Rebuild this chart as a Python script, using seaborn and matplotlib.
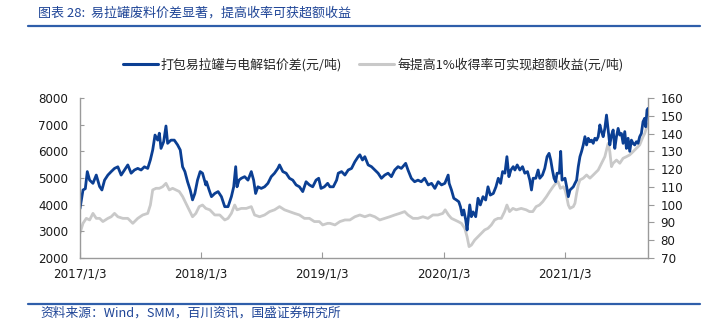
import matplotlib
matplotlib.use("Agg")
import matplotlib.pyplot as plt
from matplotlib.lines import Line2D
import seaborn as sns
import pandas as pd

# ---------------- data ----------------
title_text = "图表 28:  易拉罐废料价差显著，提高收率可获超额收益"
source_text = "资料来源：Wind，SMM，百川资讯，国盛证券研究所"
blue_name = "打包易拉罐与电解铝价差(元/吨)"
gray_name = "每提高1%收得率可实现超额收益(元/吨)"

blue_dates = [
    "2017-01-03", "2017-01-12", "2017-01-19", "2017-01-25", "2017-02-01", "2017-02-11", "2017-02-21",
    "2017-03-03", "2017-03-10", "2017-03-18", "2017-03-28", "2017-04-07", "2017-04-17", "2017-04-27",
    "2017-05-07", "2017-05-17", "2017-05-27", "2017-06-06", "2017-06-16", "2017-06-26", "2017-07-06",
    "2017-07-16", "2017-07-26", "2017-08-03", "2017-08-10", "2017-08-17", "2017-08-25", "2017-08-30",
    "2017-09-04", "2017-09-12", "2017-09-19", "2017-09-24", "2017-10-04", "2017-10-14", "2017-10-24",
    "2017-11-01", "2017-11-08", "2017-11-15", "2017-11-23", "2017-12-01", "2017-12-08", "2017-12-15",
    "2017-12-23", "2017-12-31", "2018-01-07", "2018-01-17", "2018-01-19", "2018-01-27", "2018-02-03",
    "2018-02-13", "2018-02-23", "2018-03-05", "2018-03-15", "2018-03-25", "2018-04-04", "2018-04-11",
    "2018-04-17", "2018-04-21", "2018-04-27", "2018-05-04", "2018-05-14", "2018-05-24", "2018-06-03",
    "2018-06-10", "2018-06-16", "2018-06-23", "2018-07-03", "2018-07-13", "2018-07-23", "2018-08-02",
    "2018-08-12", "2018-08-22", "2018-08-27", "2018-09-06", "2018-09-16", "2018-09-26", "2018-10-06",
    "2018-10-16", "2018-10-26", "2018-11-05", "2018-11-15", "2018-11-25", "2018-12-05", "2018-12-15",
    "2018-12-23", "2018-12-30", "2019-01-09", "2019-01-19", "2019-01-26", "2019-02-05", "2019-02-15",
    "2019-02-20", "2019-03-02", "2019-03-12", "2019-03-22", "2019-04-01", "2019-04-11", "2019-04-21",
    "2019-04-26", "2019-05-04", "2019-05-11", "2019-05-21", "2019-05-31", "2019-06-10", "2019-06-20",
    "2019-06-30", "2019-07-10", "2019-07-20", "2019-07-30", "2019-08-09", "2019-08-19", "2019-08-29",
    "2019-09-11", "2019-09-18", "2019-09-28", "2019-10-08", "2019-10-18", "2019-10-28", "2019-11-07",
    "2019-11-18", "2019-11-28", "2019-12-08", "2019-12-18", "2019-12-28", "2020-01-07", "2020-01-17",
    "2020-01-20", "2020-01-27", "2020-02-03", "2020-02-11", "2020-02-18", "2020-02-23", "2020-02-28",
    "2020-03-04", "2020-03-10", "2020-03-14", "2020-03-17", "2020-03-22", "2020-03-27", "2020-04-01",
    "2020-04-09", "2020-04-16", "2020-04-23", "2020-05-01", "2020-05-09", "2020-05-16", "2020-05-23",
    "2020-06-01", "2020-06-09", "2020-06-16", "2020-06-23", "2020-06-29", "2020-07-06", "2020-07-12",
    "2020-07-18", "2020-07-24", "2020-07-31", "2020-08-05", "2020-08-12", "2020-08-20", "2020-08-28",
    "2020-09-04", "2020-09-12", "2020-09-19", "2020-09-24", "2020-09-29", "2020-10-07", "2020-10-14",
    "2020-10-19", "2020-10-27", "2020-11-03", "2020-11-10", "2020-11-16", "2020-11-21", "2020-11-26",
    "2020-12-01", "2020-12-06", "2020-12-10", "2020-12-17", "2020-12-21", "2020-12-25", "2021-01-03",
    "2021-01-08", "2021-01-13", "2021-01-18", "2021-01-23", "2021-01-28", "2021-02-02", "2021-02-07",
    "2021-02-12", "2021-02-17", "2021-02-22", "2021-02-27", "2021-03-04", "2021-03-09", "2021-03-14",
    "2021-03-19", "2021-03-24", "2021-03-29", "2021-04-03", "2021-04-08", "2021-04-13", "2021-04-18",
    "2021-04-23", "2021-04-28", "2021-05-03", "2021-05-08", "2021-05-13", "2021-05-18", "2021-05-23",
    "2021-05-28", "2021-06-02", "2021-06-07", "2021-06-12", "2021-06-17", "2021-06-22", "2021-06-27",
    "2021-07-02", "2021-07-07", "2021-07-12", "2021-07-17", "2021-07-22", "2021-07-27", "2021-08-01",
    "2021-08-06", "2021-08-11", "2021-08-16", "2021-08-21", "2021-08-26", "2021-08-31", "2021-09-03",
    "2021-09-07", "2021-09-10",
]
blue_values = [
    3850, 4550, 4600, 5240, 4920, 4800, 5110,
    4680, 4550, 4920, 5110, 5240, 5360, 5420,
    5110, 5300, 5490, 5180, 5300, 5360, 5300,
    5420, 5360, 5680, 6050, 6610, 6420, 6680,
    6110, 6360, 6950, 6300, 6420, 6420, 6240,
    6050, 5420, 5240, 4860, 4550, 4180, 4420,
    4920, 5240, 5180, 4740, 4860, 4550, 4300,
    4420, 4490, 4300, 3925, 3925, 4300, 4670,
    5425, 4670, 4920, 4990, 5050, 4920, 5240,
    4920, 4420, 4670, 4610, 4670, 4800, 5050,
    5180, 5360, 5490, 5240, 5180, 4990, 4920,
    4740, 4670, 4490, 4860, 4740, 4670, 4920,
    4990, 4610, 4670, 4800, 4670, 4670, 4920,
    5180, 5240, 5110, 5300, 5360, 5610, 5800,
    5870, 5675, 5800, 5490, 5425, 5300, 5180,
    4990, 5110, 5180, 5050, 5300, 5425, 5360,
    5550, 5300, 4990, 4860, 4920, 4860, 4990,
    4740, 4800, 4610, 4860, 4740, 4800, 5110,
    4800, 4550, 4240, 4175, 4110, 3925, 3610,
    3800, 3420, 3050, 3420, 3990, 3550, 3730,
    3550, 4240, 3990, 4300, 4175, 4670, 4360,
    4420, 4670, 4990, 4800, 5240, 5180, 5800,
    5050, 5300, 5425, 5300, 5490, 5300, 5425,
    5180, 5240, 4920, 4550, 4990, 4990, 5300,
    4990, 5110, 5360, 5800, 5925, 5675, 5300,
    4990, 4860, 5180, 5180, 6000, 4920, 4990,
    4670, 4300, 4550, 4610, 4670, 4800, 4920,
    5425, 5800, 6000, 6240, 6550, 6240, 6490,
    6360, 6420, 6300, 6490, 6420, 6550, 6990,
    6740, 6550, 6860, 7360, 6800, 6240, 6610,
    6800, 6110, 6550, 6860, 6610, 6670, 6300,
    6740, 6110, 6490, 6000, 6420, 6300, 6240,
    6360, 6300, 6550, 6670, 7110, 7240, 6920,
    7550, 7610,
]

gray_dates = [
    "2017-01-03", "2017-01-12", "2017-01-22", "2017-02-01", "2017-02-11", "2017-02-21", "2017-03-03",
    "2017-03-13", "2017-03-28", "2017-04-07", "2017-04-17", "2017-04-27", "2017-05-12", "2017-05-27",
    "2017-06-11", "2017-06-26", "2017-07-11", "2017-07-26", "2017-08-03", "2017-08-10", "2017-08-20",
    "2017-08-30", "2017-09-09", "2017-09-19", "2017-09-29", "2017-10-09", "2017-10-19", "2017-10-29",
    "2017-11-08", "2017-11-18", "2017-11-28", "2017-12-08", "2017-12-18", "2017-12-28", "2018-01-07",
    "2018-01-17", "2018-01-29", "2018-02-13", "2018-02-28", "2018-03-15", "2018-03-25", "2018-04-04",
    "2018-04-14", "2018-04-21", "2018-05-04", "2018-05-19", "2018-06-03", "2018-06-13", "2018-06-28",
    "2018-07-13", "2018-07-28", "2018-08-12", "2018-08-27", "2018-09-11", "2018-09-26", "2018-10-11",
    "2018-10-26", "2018-11-10", "2018-11-25", "2018-12-10", "2018-12-25", "2019-01-04", "2019-01-19",
    "2019-01-26", "2019-02-10", "2019-02-25", "2019-03-12", "2019-03-27", "2019-04-11", "2019-04-26",
    "2019-05-11", "2019-05-26", "2019-06-10", "2019-06-25", "2019-07-10", "2019-07-25", "2019-08-09",
    "2019-08-24", "2019-09-08", "2019-09-18", "2019-10-03", "2019-10-18", "2019-11-02", "2019-11-17",
    "2019-12-02", "2019-12-17", "2020-01-01", "2020-01-08", "2020-01-18", "2020-01-27", "2020-02-06",
    "2020-02-16", "2020-02-26", "2020-03-07", "2020-03-14", "2020-03-20", "2020-03-27", "2020-04-06",
    "2020-04-16", "2020-04-26", "2020-05-06", "2020-05-16", "2020-05-26", "2020-06-05", "2020-06-15",
    "2020-06-25", "2020-07-05", "2020-07-12", "2020-07-20", "2020-07-30", "2020-08-09", "2020-08-24",
    "2020-09-08", "2020-09-18", "2020-09-28", "2020-10-08", "2020-10-18", "2020-10-28", "2020-11-08",
    "2020-11-18", "2020-11-28", "2020-12-06", "2020-12-13", "2020-12-20", "2020-12-29", "2021-01-03",
    "2021-01-08", "2021-01-13", "2021-01-18", "2021-01-28", "2021-02-02", "2021-02-07", "2021-02-12",
    "2021-02-17", "2021-02-27", "2021-03-09", "2021-03-19", "2021-03-29", "2021-04-08", "2021-04-13",
    "2021-04-23", "2021-05-03", "2021-05-13", "2021-05-18", "2021-05-23", "2021-05-28", "2021-06-07",
    "2021-06-17", "2021-06-27", "2021-07-07", "2021-07-17", "2021-07-27", "2021-08-06", "2021-08-16",
    "2021-08-26", "2021-08-31", "2021-09-05", "2021-09-10",
]
gray_values = [
    84.0, 89.5, 92.3, 91.4, 95.1, 92.3, 92.3,
    90.5, 92.3, 93.2, 95.1, 93.2, 92.3, 92.3,
    89.5, 92.3, 94.2, 95.1, 99.8, 108.3, 109.2,
    109.2, 110.1, 112.0, 108.3, 109.2, 108.3, 107.4,
    104.6, 100.8, 97.1, 93.2, 95.1, 98.9, 99.8,
    97.9, 97.1, 94.2, 94.2, 91.4, 92.3, 95.1,
    99.8, 97.1, 97.9, 97.9, 98.9, 94.2, 93.2,
    94.2, 96.1, 97.1, 98.9, 97.1, 96.1, 95.1,
    94.2, 92.3, 92.3, 90.5, 90.5, 88.6, 89.5,
    89.5, 88.6, 90.5, 91.4, 91.4, 93.2, 94.2,
    93.2, 94.2, 93.2, 91.4, 92.3, 93.2, 94.2,
    95.1, 96.1, 94.2, 92.3, 92.3, 93.2, 92.3,
    94.2, 94.2, 95.1, 97.1, 94.2, 92.3, 91.4,
    90.5, 89.5, 86.7, 82.0, 76.4, 77.3, 80.1,
    82.0, 83.9, 85.8, 86.7, 88.6, 91.4, 92.3,
    92.3, 96.1, 99.8, 96.1, 97.9, 97.1, 97.9,
    97.1, 96.1, 96.1, 98.9, 99.8, 101.7, 104.5,
    107.4, 110.1, 112.0, 112.9, 109.2, 110.1, 108.3,
    104.5, 99.8, 97.9, 98.9, 100.8, 106.4, 111.1,
    113.9, 114.9, 116.7, 114.9, 116.7, 118.6, 119.5,
    123.3, 127.0, 134.5, 129.8, 121.4, 123.3, 125.1,
    123.3, 126.1, 127.0, 128.0, 129.8, 131.7, 133.6,
    138.2, 140.0, 143.0, 145.5,
]

x_tick_dates = ["2017-01-03", "2018-01-03", "2019-01-03", "2020-01-03", "2021-01-03"]
x_tick_labels = ["2017/1/3", "2018/1/3", "2019/1/3", "2020/1/3", "2021/1/3"]
x_end = "2021-09-10"
left_ticks = [2000, 3000, 4000, 5000, 6000, 7000, 8000]
right_ticks = [70, 80, 90, 100, 110, 120, 130, 140, 150, 160]

# ---------------- styling ----------------
sns.set_theme(style="white")
plt.rcParams["font.family"] = ["DejaVu Sans", "Noto Sans CJK SC"]
cjk = ["Noto Sans CJK SC", "DejaVu Sans"]

BLUE = "#0B3F93"
GRAY = "#C9C9C9"
AXIS = "#9A9A9A"
HEAD = "#1F4597"
RULE = "#2F5EAA"

df_blue = pd.DataFrame({"date": pd.to_datetime(blue_dates), "value": blue_values})
df_gray = pd.DataFrame({"date": pd.to_datetime(gray_dates), "value": gray_values})

fig = plt.figure(figsize=(7.10, 3.27), dpi=100)
W, H = 710, 327
ax = fig.add_axes([80 / W, 1 - 258 / H, (648 - 80) / W, (258 - 98) / H])
ax2 = ax.twinx()

sns.lineplot(data=df_blue, x="date", y="value", ax=ax, color=BLUE, linewidth=2.0)
sns.lineplot(data=df_gray, x="date", y="value", ax=ax2, color=GRAY, linewidth=2.0)

ax.set_zorder(ax2.get_zorder() + 1)
ax.patch.set_visible(False)

ax.set_xlim(pd.Timestamp(x_tick_dates[0]), pd.Timestamp(x_end))
ax.set_ylim(left_ticks[0], left_ticks[-1])
ax2.set_ylim(right_ticks[0], right_ticks[-1])
ax.set_yticks(left_ticks)
ax2.set_yticks(right_ticks)
ax.set_xticks(pd.to_datetime(x_tick_dates))
ax.set_xticklabels(x_tick_labels)

for a in (ax, ax2):
    a.set_xlabel("")
    a.set_ylabel("")
    a.grid(False)
    for s in a.spines.values():
        s.set_color(AXIS)
        s.set_linewidth(1.0)
    a.spines["top"].set_visible(False)

ax.spines["right"].set_visible(False)
ax2.spines["left"].set_visible(False)
ax2.spines["bottom"].set_visible(False)

ax.tick_params(axis="y", direction="in", length=3, width=0.8, color=AXIS,
               labelsize=8.6, pad=8.5, labelcolor="#1a1a1a", left=True)
ax.tick_params(axis="x", direction="in", length=4, width=0.8, color=AXIS,
               labelsize=8.6, pad=7, labelcolor="#1a1a1a", bottom=True)
ax2.tick_params(axis="y", direction="out", length=4, width=0.8, color=AXIS,
                labelsize=8.6, pad=5, labelcolor="#1a1a1a", right=True)

# legend
handles = [Line2D([], [], color=BLUE, linewidth=2.2), Line2D([], [], color=GRAY, linewidth=2.2)]
fig.legend(handles, [blue_name, gray_name], loc="center",
           bbox_to_anchor=(373 / W, 1 - 65 / H), ncol=2, frameon=False,
           handlelength=2.7, handletextpad=0.25, columnspacing=1.3,
           prop={"family": cjk, "size": 9.3})

# title, rules and source
fig.text(38 / W, 1 - 13 / H, title_text, ha="left", va="center", color=HEAD,
         fontsize=9.4, family=cjk, style="italic")
fig.add_artist(Line2D([28 / W, 700 / W], [1 - 25.5 / H, 1 - 25.5 / H], color=RULE, linewidth=1.6))
fig.add_artist(Line2D([28 / W, 700 / W], [1 - 304 / H, 1 - 304 / H], color=RULE, linewidth=1.6))
fig.text(40 / W, 1 - 313.5 / H, source_text, ha="left", va="center", color=HEAD,
         fontsize=9.2, family=cjk, style="italic")

fig.savefig("out.png", dpi=100)
